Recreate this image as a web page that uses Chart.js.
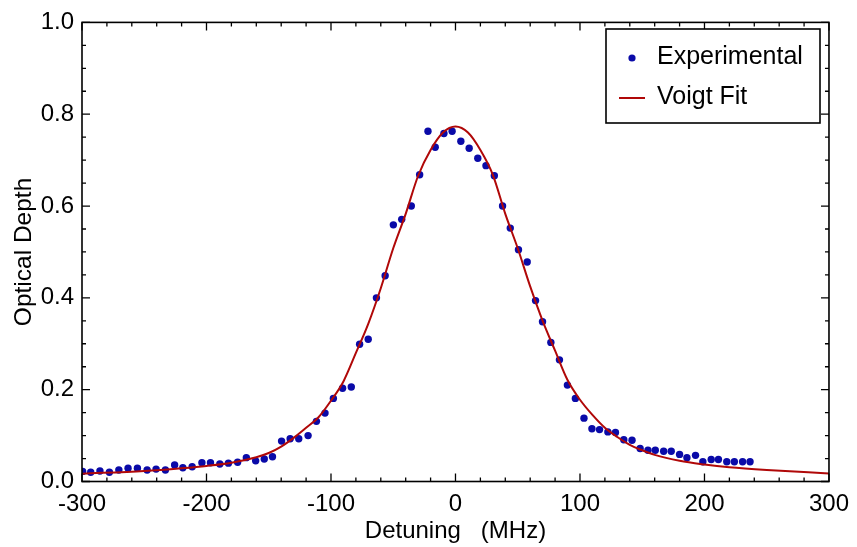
<!DOCTYPE html>
<html>
<head>
<meta charset="utf-8">
<script src="https://cdn.jsdelivr.net/npm/chart.js@4.4.1/dist/chart.umd.min.js"></script>
<style>
  html, body { margin: 0; padding: 0; background: #fff; }
  #wrap { width: 857px; height: 547px; }
</style>
</head>
<body>
<div id="wrap"><canvas id="chart" width="857" height="547"></canvas></div>
<script>
const expDetuning = [
  -299.5, -293, -285.6, -278, -270.4, -263, -255.5, -247.7, -240.5, -233,
  -225.6, -219, -211.5, -203.7, -196.8, -189.3, -182.4, -175, -168, -160.5,
  -153.6, -147, -139.7, -132.8, -125.9, -118.4, -111.7, -104.8, -98.1, -90.7,
  -83.7, -77, -70.1, -63.5, -56.5, -49.9, -43.2, -35.5, -28.8, -22.1,
  -16.3, -9.3, -2.7, 4.3, 11, 17.9, 24.5, 31.2, 37.8, 44,
  50.6, 57.6, 64.3, 69.9, 76.6, 83.5, 89.9, 96.3, 103.2, 109.6,
  115.7, 122.4, 128.5, 135.2, 141.8, 148.3, 154.6, 160.5, 167.2, 173.3,
  180, 185.9, 192.8, 198.7, 205.4, 211.2, 217.9, 224, 230.6, 236.6
];
const expDepth = [
  0.022, 0.020, 0.023, 0.020, 0.025, 0.029, 0.029, 0.025, 0.027, 0.025,
  0.036, 0.030, 0.032, 0.041, 0.041, 0.038, 0.040, 0.042, 0.052, 0.045,
  0.049, 0.054, 0.088, 0.093, 0.093, 0.100, 0.131, 0.149, 0.181, 0.203,
  0.206, 0.299, 0.310, 0.400, 0.448, 0.559, 0.571, 0.600, 0.668, 0.763,
  0.728, 0.758, 0.763, 0.741, 0.726, 0.704, 0.688, 0.666, 0.600, 0.552,
  0.505, 0.478, 0.394, 0.348, 0.303, 0.265, 0.210, 0.181, 0.138, 0.115,
  0.113, 0.108, 0.107, 0.091, 0.090, 0.072, 0.068, 0.068, 0.066, 0.066,
  0.059, 0.052, 0.057, 0.043, 0.048, 0.048, 0.043, 0.043, 0.043, 0.043
];

// fit curve, sampled off the plot
const fitDetuning = [
  -300, -250, -220, -200, -180, -160, -150, -140, -130, -120,
  -110, -100, -90, -80, -70, -60, -50, -40, -30, -20,
  -10, 0, 10, 20, 30, 40, 50, 60, 70, 80,
  90, 100, 110, 120, 130, 140, 150, 160, 180, 200,
  220, 250, 300
];
const fitDepth = [
  0.017, 0.023, 0.029, 0.034, 0.041, 0.053, 0.062, 0.076, 0.095, 0.117,
  0.140, 0.176, 0.218, 0.280, 0.344, 0.421, 0.508, 0.583, 0.666, 0.722,
  0.760, 0.773, 0.760, 0.722, 0.668, 0.583, 0.508, 0.425, 0.350, 0.285,
  0.221, 0.178, 0.145, 0.117, 0.097, 0.080, 0.068, 0.058, 0.045, 0.037,
  0.031, 0.025, 0.0175
];

const xTicks = [-300, -200, -100, 0, 100, 200, 300];
const yTicks = [0.0, 0.2, 0.4, 0.6, 0.8, 1.0];
const seriesLabels = ['Experimental', 'Voigt Fit'];

const pointColor = '#0a0aa8';
const fitColor = '#b00808';
const fontFamily = 'Arial, "Liberation Sans", Helvetica, sans-serif';

Chart.defaults.font.family = fontFamily;
Chart.defaults.color = '#000';

// frame, inward ticks on all four sides, and the legend box
const framePlugin = {
  id: 'frame',
  afterDraw(chart) {
    const { ctx, chartArea: a, scales } = chart;
    const xs = scales.x, ys = scales.y;
    ctx.save();
    ctx.strokeStyle = '#000';
    ctx.lineWidth = 1.6;
    ctx.strokeRect(a.left, a.top, a.right - a.left, a.bottom - a.top);

    ctx.lineWidth = 1.3;
    ctx.beginPath();
    for (let v = -300; v <= 300; v += 20) {
      const px = xs.getPixelForValue(v);
      const len = v % 100 === 0 ? 8 : 4;
      ctx.moveTo(px, a.bottom); ctx.lineTo(px, a.bottom - len);
      ctx.moveTo(px, a.top); ctx.lineTo(px, a.top + len);
    }
    for (let i = 0; i <= 20; i++) {
      const py = ys.getPixelForValue(i * 0.05);
      const len = i % 4 === 0 ? 8 : 4;
      ctx.moveTo(a.left, py); ctx.lineTo(a.left + len, py);
      ctx.moveTo(a.right, py); ctx.lineTo(a.right - len, py);
    }
    ctx.stroke();

    // legend
    const bx = 606, by = 29, bw = 214, bh = 94;
    ctx.fillStyle = '#fff';
    ctx.fillRect(bx, by, bw, bh);
    ctx.lineWidth = 1.6;
    ctx.strokeRect(bx, by, bw, bh);

    ctx.fillStyle = pointColor;
    ctx.beginPath();
    ctx.arc(632, 58, 3.6, 0, Math.PI * 2);
    ctx.fill();

    ctx.strokeStyle = fitColor;
    ctx.lineWidth = 2;
    ctx.beginPath();
    ctx.moveTo(619, 98); ctx.lineTo(645, 98);
    ctx.stroke();

    ctx.fillStyle = '#000';
    ctx.font = '25px ' + fontFamily;
    ctx.textBaseline = 'middle';
    ctx.textAlign = 'left';
    ctx.fillText(seriesLabels[0], 657, 57);
    ctx.fillText(seriesLabels[1], 657, 97);
    ctx.restore();
  }
};

new Chart(document.getElementById('chart'), {
  type: 'scatter',
  data: {
    datasets: [
      {
        label: seriesLabels[1],
        data: fitDetuning.map((x, i) => ({ x: x, y: fitDepth[i] })),
        showLine: true,
        borderColor: fitColor,
        borderWidth: 2,
        pointRadius: 0,
        cubicInterpolationMode: 'monotone',
        order: 0
      },
      {
        label: seriesLabels[0],
        data: expDetuning.map((x, i) => ({ x: x, y: expDepth[i] })),
        backgroundColor: pointColor,
        borderColor: pointColor,
        borderWidth: 0,
        pointRadius: 3.7,
        order: 1
      }
    ]
  },
  options: {
    responsive: false,
    animation: false,
    devicePixelRatio: 1,
    layout: { padding: { left: 0, top: 15, right: 25, bottom: 0 } },
    plugins: {
      legend: { display: false },
      tooltip: { enabled: false }
    },
    scales: {
      x: {
        type: 'linear',
        min: -300,
        max: 300,
        grid: { display: false, drawTicks: false },
        border: { display: false },
        afterBuildTicks(scale) { scale.ticks = xTicks.map(v => ({ value: v })); },
        afterFit(scale) { scale.height = 65.5; },
        ticks: {
          font: { size: 24 },
          padding: 8,
          maxRotation: 0,
          callback: v => String(v)
        },
        title: {
          display: true,
          text: 'Detuning   (MHz)',
          font: { size: 24 },
          padding: { top: 0, bottom: 1 }
        }
      },
      y: {
        type: 'linear',
        min: 0,
        max: 1,
        grid: { display: false, drawTicks: false },
        border: { display: false },
        afterBuildTicks(scale) { scale.ticks = yTicks.map(v => ({ value: v })); },
        afterFit(scale) { scale.width = 82; },
        ticks: {
          font: { size: 24 },
          padding: 8,
          callback: v => Number(v).toFixed(1)
        },
        title: {
          display: true,
          text: 'Optical Depth',
          font: { size: 24.5 },
          padding: { top: 10, bottom: 0 }
        }
      }
    }
  },
  plugins: [framePlugin]
});
</script>
</body>
</html>
